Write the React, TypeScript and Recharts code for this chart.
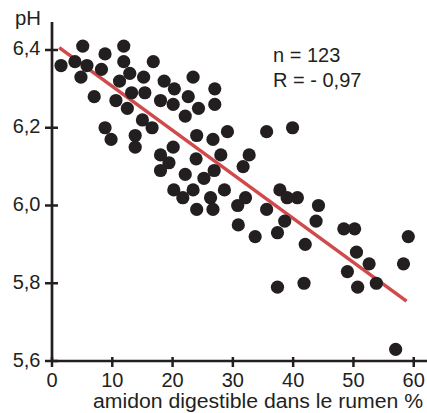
import { ReferenceLine, Scatter, ScatterChart, XAxis, YAxis } from "recharts";

const CHART_W = 427;
const CHART_H = 413;
const TOP = 22;
const Y_AXIS_W = 52;
const X_AXIS_H = 52;
const PLOT_BOTTOM = CHART_H - X_AXIS_H;

const INK = "#231f20";
const LINE_RED = "#d04a4c";
const FONT = "'Liberation Sans', Arial, sans-serif";

const X_TICKS = [0, 10, 20, 30, 40, 50, 60];
const Y_TICKS = [5.6, 5.8, 6.0, 6.2, 6.4];

// amidon digestible (%) and pH
const STARCH = [
  1.5, 3.8, 5.1, 5.8, 4.8, 7.0, 8.8, 8.2, 11.9, 11.9, 12.9, 11.2, 15.2, 13.2, 10.6, 15.4,
  16.8, 18.6, 12.5, 15.0, 16.6, 8.8, 9.8, 13.8, 13.8, 18.0, 20.1, 20.3, 22.6, 23.4, 27.0, 27.0,
  24.3, 22.1, 20.1, 24.0, 26.7, 18.0, 19.4, 18.0, 22.1, 23.9, 25.2, 26.9, 20.2, 21.7, 23.4, 24.0,
  26.3, 26.7, 29.1, 35.6, 39.9, 28.0, 32.7, 31.7, 28.6, 32.1, 37.8, 39.0, 40.7, 30.8, 35.6, 44.2,
  38.6, 43.8, 30.9, 33.7, 37.4, 42.0, 37.4, 41.8, 48.4, 50.2, 50.5, 52.6, 49.0, 53.8, 50.7, 59.1,
  58.3, 57.0,
];
const PH = [
  6.36, 6.37, 6.41, 6.36, 6.33, 6.28, 6.39, 6.35, 6.41, 6.37, 6.34, 6.32, 6.33, 6.29, 6.27, 6.29,
  6.37, 6.32, 6.25, 6.22, 6.2, 6.2, 6.17, 6.18, 6.15, 6.27, 6.26, 6.3, 6.28, 6.33, 6.3, 6.26,
  6.25, 6.23, 6.15, 6.18, 6.17, 6.13, 6.11, 6.09, 6.08, 6.12, 6.07, 6.09, 6.04, 6.02, 6.04, 5.99,
  6.02, 5.99, 6.19, 6.19, 6.2, 6.13, 6.13, 6.1, 6.04, 6.02, 6.04, 6.02, 6.02, 6.0, 5.99, 6.0,
  5.96, 5.96, 5.95, 5.92, 5.93, 5.9, 5.79, 5.8, 5.94, 5.94, 5.88, 5.85, 5.83, 5.8, 5.79, 5.92,
  5.85, 5.63,
];

const FIT_START = { x: 1.2, y: 6.406 };
const FIT_END = { x: 58.8, y: 5.754 };

const points = STARCH.map((x, i) => ({ x, y: PH[i] }));

function XTick(props: any) {
  const { x, payload } = props;
  return (
    <g>
      <line x1={x} x2={x} y1={PLOT_BOTTOM - 4} y2={PLOT_BOTTOM + 6} stroke={INK} strokeWidth={2.5} />
      <text x={x} y={PLOT_BOTTOM + 26} textAnchor="middle" fontSize={20} fontFamily={FONT} fill={INK}>
        {payload.value}
      </text>
    </g>
  );
}

function YTick(props: any) {
  const { y, payload } = props;
  return (
    <g>
      <line x1={Y_AXIS_W - 7} x2={Y_AXIS_W + 6} y1={y} y2={y} stroke={INK} strokeWidth={2.5} />
      <text x={40.5} y={y + 5.5} textAnchor="end" fontSize={20} fontFamily={FONT} fill={INK}>
        {Number(payload.value).toFixed(1).replace(".", ",")}
      </text>
    </g>
  );
}

function Dot(props: any) {
  return <circle cx={props.cx} cy={props.cy} r={6.6} fill={INK} />;
}

export default function App() {
  return (
    <div style={{ position: "absolute", left: 0, top: 0, width: CHART_W, height: CHART_H, background: "#fff" }}>
      <ScatterChart width={CHART_W} height={CHART_H} margin={{ top: TOP, right: 0, bottom: 0, left: 0 }}>
        <XAxis
          type="number"
          dataKey="x"
          domain={[0, 62.2]}
          ticks={X_TICKS}
          interval={0}
          height={X_AXIS_H}
          tick={<XTick />}
          tickLine={false}
          axisLine={{ stroke: INK, strokeWidth: 2.7 }}
          allowDataOverflow
        />
        <YAxis
          type="number"
          dataKey="y"
          domain={[5.6, 6.472]}
          ticks={Y_TICKS}
          interval={0}
          width={Y_AXIS_W}
          tick={<YTick />}
          tickLine={false}
          axisLine={{ stroke: INK, strokeWidth: 2.7 }}
          allowDataOverflow
        />
        <Scatter data={points} shape={<Dot />} isAnimationActive={false} />
        <ReferenceLine
          segment={[FIT_START, FIT_END]}
          stroke={LINE_RED}
          strokeWidth={3.5}
        />
      </ScatterChart>
      <svg
        width={CHART_W}
        height={CHART_H}
        style={{ position: "absolute", left: 0, top: 0, pointerEvents: "none" }}
      >
        <g fontFamily={FONT} fontSize={20} fill={INK}>
          <text x={15} y={25} textLength={26} lengthAdjust="spacingAndGlyphs">pH</text>
          <text x={273} y={62}>n = 123</text>
          <text x={273} y={87}>R = - 0,97</text>
          <text x={93} y={408} textLength={330} lengthAdjust="spacingAndGlyphs">
            amidon digestible dans le rumen %
          </text>
        </g>
      </svg>
    </div>
  );
}
